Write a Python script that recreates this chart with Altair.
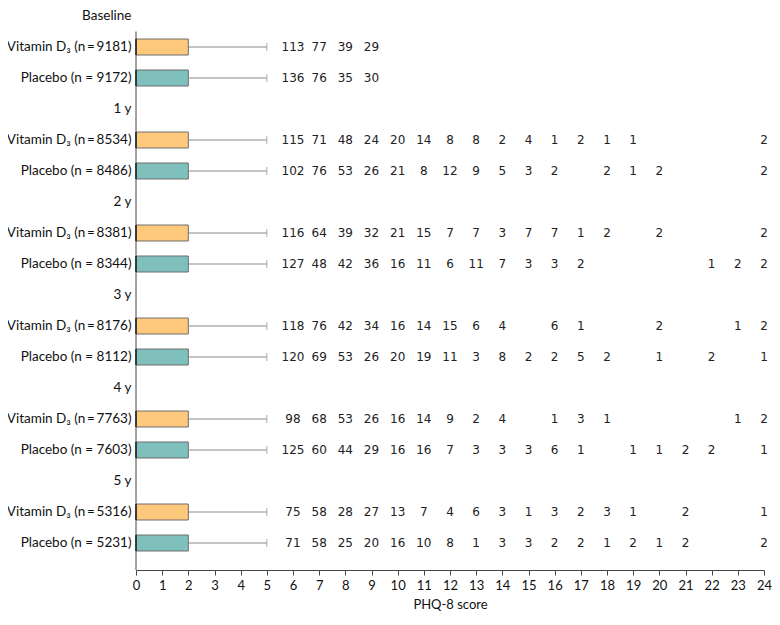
import altair as alt
import pandas as pd

groups = ["Baseline", "1 y", "2 y", "3 y", "4 y", "5 y"]
vit_n = [9181, 8534, 8381, 8176, 7763, 5316]
pla_n = [9172, 8486, 8344, 8112, 7603, 5231]

q1 = [0, 0, 0, 0, 0, 0]
median = [0, 0, 0, 0, 0, 0]
q3 = [2, 2, 2, 2, 2, 2]
whisker_hi = [5, 5, 5, 5, 5, 5]

scores = list(range(6, 25))
tick_values = list(range(0, 25))
N = None
# counts of participants at each score 6..24 (outliers)
vit_counts = [
    [113, 77, 39, 29, N, N, N, N, N, N, N, N, N, N, N, N, N, N, N],
    [115, 71, 48, 24, 20, 14, 8, 8, 2, 4, 1, 2, 1, 1, N, N, N, N, 2],
    [116, 64, 39, 32, 21, 15, 7, 7, 3, 7, 7, 1, 2, N, 2, N, N, N, 2],
    [118, 76, 42, 34, 16, 14, 15, 6, 4, N, 6, 1, N, N, 2, N, N, 1, 2],
    [98, 68, 53, 26, 16, 14, 9, 2, 4, N, 1, 3, 1, N, N, N, N, 1, 2],
    [75, 58, 28, 27, 13, 7, 4, 6, 3, 1, 3, 2, 3, 1, N, 2, N, N, 1],
]
pla_counts = [
    [136, 76, 35, 30, N, N, N, N, N, N, N, N, N, N, N, N, N, N, N],
    [102, 76, 53, 26, 21, 8, 12, 9, 5, 3, 2, N, 2, 1, 2, N, N, N, 2],
    [127, 48, 42, 36, 16, 11, 6, 11, 7, 3, 3, 2, N, N, N, N, 1, 2, 2],
    [120, 69, 53, 26, 20, 19, 11, 3, 8, 2, 2, 5, 2, N, 1, N, 2, N, 1],
    [125, 60, 44, 29, 16, 16, 7, 3, 3, 3, 6, 1, N, 1, 1, 2, 2, N, 1],
    [71, 58, 25, 20, 16, 10, 8, 1, 3, 3, 2, 2, 1, 2, 1, 2, N, N, 2],
]

rows = []
box_recs = []
text_recs = []
for i, g in enumerate(groups):
    vlab = f"Vitamin D\u2083 (n\u2009=\u2009{vit_n[i]})"
    plab = f"Placebo (n = {pla_n[i]})"
    rows += [g, vlab, plab]
    for arm, lab, cnts in (("Vitamin D3", vlab, vit_counts[i]), ("Placebo", plab, pla_counts[i])):
        box_recs.append(dict(row=lab, arm=arm, q1=q1[i], med=median[i], q3=q3[i], whi=whisker_hi[i]))
        for s, c in zip(scores, cnts):
            if c is not None:
                text_recs.append(dict(row=lab, score=s, count=c))

box_df = pd.DataFrame(box_recs)
text_df = pd.DataFrame(text_recs)
axis_df = pd.DataFrame([dict(row=rows[1])])

TOP = 8
H = 562 - TOP
W = 628
step = 31.0
r0 = 8 - TOP - step / 2
yscale = alt.Scale(domain=rows, range=[r0, r0 + step * len(rows)], paddingInner=0, paddingOuter=0)
yenc = alt.Y("row:N", scale=yscale,
             axis=alt.Axis(title=None, ticks=False, domain=False, labelFont="Lato",
                           labelFontSize=13.5, labelColor="#111", labelPadding=5,
                           labelLimit=200))
xscale = alt.Scale(domain=[0, 24], nice=False, zero=False)
xaxis = alt.Axis(values=tick_values, tickCount=25, title="PHQ-8 score", grid=False,
                 labelFont="Lato", labelFontSize=13, labelColor="#111",
                 titleFont="Lato", titleFontSize=13, titleFontWeight="normal",
                 titleColor="#111", tickColor="#444", domainColor="#444",
                 tickSize=5, labelPadding=4, titlePadding=6, labelFlush=False,
                 labelOverlap=False)

color = alt.Color("arm:N", scale=alt.Scale(domain=["Vitamin D3", "Placebo"],
                                           range=["#FEC87D", "#7FBFBC"]), legend=None)

base = alt.Chart(box_df)

vline = alt.Chart(axis_df).mark_rule(color="#444", strokeWidth=1).encode(
    x=alt.datum(0, scale=xscale, axis=xaxis),
    y=alt.Y("row:N", bandPosition=0, scale=yscale),
    y2=alt.value(H),
)

whisker = base.mark_rule(color="#8a8a8a", strokeWidth=1).encode(
    x=alt.X("q3:Q", scale=xscale, axis=xaxis), x2="whi:Q", y=yenc)
cap = base.mark_tick(color="#8a8a8a", size=8, thickness=1).encode(
    x=alt.X("whi:Q", scale=xscale, axis=xaxis), y=yenc)
box = base.mark_bar(size=16, stroke="#6f6f6f", strokeWidth=1).encode(
    x=alt.X("q1:Q", scale=xscale, axis=xaxis), x2="q3:Q", y=yenc, color=color)
med = base.mark_tick(color="#000", size=16, thickness=2).encode(
    x=alt.X("med:Q", scale=xscale, axis=xaxis), y=yenc)

texts = alt.Chart(text_df).mark_text(font="DejaVu Sans", fontSize=12, color="#222",
                                     align="center", baseline="middle").encode(
    x=alt.X("score:Q", scale=xscale, axis=xaxis), y=yenc, text="count:Q")

chart = alt.layer(whisker, cap, box, med, vline, texts).properties(
    width=W, height=H,
    autosize=alt.AutoSizeParams(type="none"),
    padding={"left": 128, "top": TOP, "right": 8, "bottom": 50},
).configure_view(stroke=None)

chart.save("out.html", embed_options={"renderer": "svg", "actions": False})
